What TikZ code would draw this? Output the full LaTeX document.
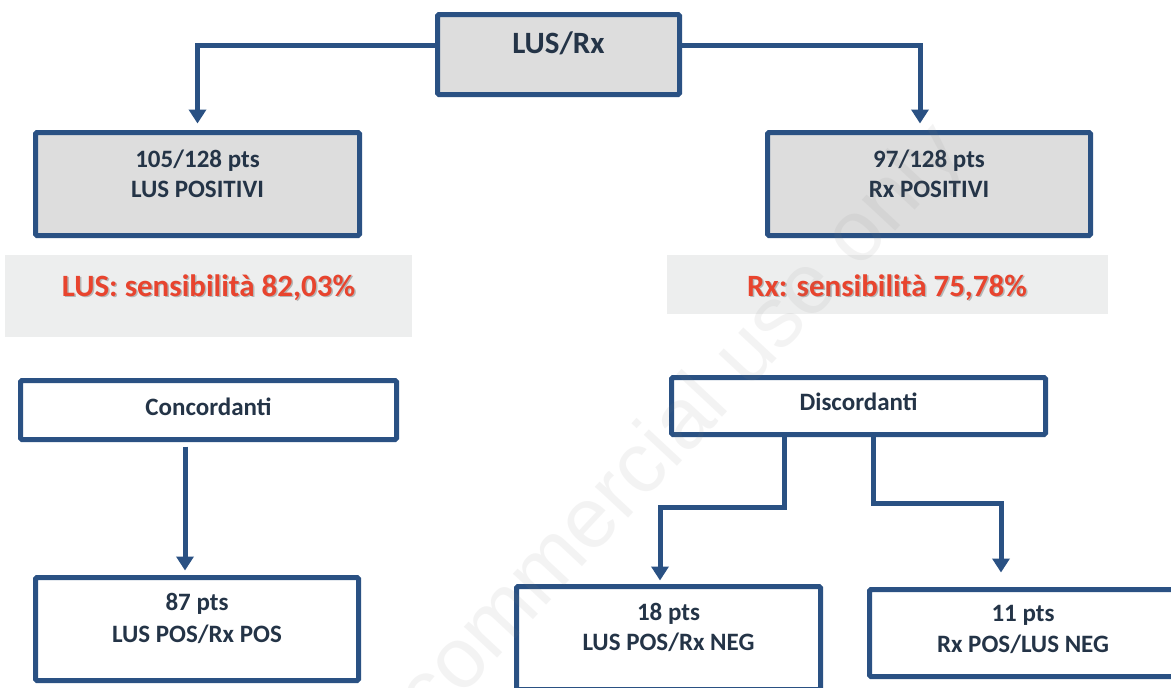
\documentclass[tikz,border=0pt]{standalone}
\usepackage{fontspec}
\setmainfont{Carlito}
\newfontfamily\wmfont{Liberation Sans}
\usetikzlibrary{arrows.meta}
\definecolor{bordblue}{HTML}{2A5183}
\definecolor{txt}{HTML}{243447}
\definecolor{boxgray}{HTML}{DDDDDD}
\definecolor{bandgray}{HTML}{EDEEEE}
\definecolor{redtxt}{HTML}{E8442E}
\begin{document}
\begin{tikzpicture}[x=1pt,y=-1pt,
  box/.style={draw=bordblue, line width=5pt, rounded corners=1.5pt, inner sep=0pt, outer sep=0pt},
  graybox/.style={box, fill=boxgray},
  whitebox/.style={box, fill=white},
  band/.style={fill=bandgray, draw=none, inner sep=0pt},
  lbl/.style={text=txt, font=\fontsize{25}{31}\selectfont\bfseries, anchor=base, inner sep=0pt},
  sens/.style={text=redtxt, font=\fontsize{31}{37}\selectfont\bfseries, anchor=base, inner sep=0pt},
  shad/.style={text=black!55, opacity=0.45, font=\fontsize{31}{37}\selectfont\bfseries, anchor=base, inner sep=0pt},
  conn/.style={draw=bordblue, line width=5pt, -{Triangle[width=17pt,length=14pt]}}
]
\useasboundingbox (0,0) rectangle (1171,688);
\fill[white] (0,0) rectangle (1171,688);

% bands
\node[band, minimum width=407pt, minimum height=82pt] (lband) at (208.5,296) {};
\node[band, minimum width=441pt, minimum height=59pt] (rband) at (887.5,284.5) {};

% boxes
\node[graybox, minimum width=242pt, minimum height=80pt] (top) at (558.5,54.5) {};
\node[graybox, minimum width=324pt, minimum height=103pt] (lpos) at (197.5,184) {};
\node[graybox, minimum width=323pt, minimum height=103pt] (rpos) at (929,184) {};
\node[whitebox, minimum width=376pt, minimum height=59pt] (conc) at (208.5,410) {};
\node[whitebox, minimum width=323pt, minimum height=103pt] (p87) at (197,629) {};
\node[whitebox, minimum width=374pt, minimum height=57pt] (disc) at (858.5,406) {};
\node[whitebox, minimum width=304pt, minimum height=103pt] (p18) at (668.5,638) {};
\node[whitebox, minimum width=309pt, minimum height=87pt] (p11) at (1024,633) {};

% texts
\node[lbl, font=\fontsize{31}{37}\selectfont\bfseries] (ttop) at (558.5,53) {LUS/Rx};
\node[lbl] (tl1) at (197.5,167) {105/128 pts};
\node[lbl] (tl2) at (197.5,197.5) {LUS POSITIVI};
\node[lbl] (tr1) at (929,167) {97/128 pts};
\node[lbl] (tr2) at (929,197.5) {Rx POSITIVI};
\node[lbl] (tconc) at (208.5,415) {Concordanti};
\node[lbl] (t871) at (197,610) {87 pts};
\node[lbl] (t872) at (197,642) {LUS POS/Rx POS};
\node[lbl] (tdisc) at (858.5,410) {Discordanti};
\node[lbl] (t181) at (668.5,620) {18 pts};
\node[lbl] (t182) at (668.5,650) {LUS POS/Rx NEG};
\node[lbl] (t111) at (1023,621) {11 pts};
\node[lbl] (t112) at (1023,652) {Rx POS/LUS NEG};

% sensitivity texts with shadow
\node[shad] (sls) at (210,297.5) {LUS: sensibilità 82,03\%};
\node[sens] (sl) at (208.5,296) {LUS: sensibilità 82,03\%};
\node[shad] (srs) at (888.5,297.5) {Rx: sensibilità 75,78\%};
\node[sens] (sr) at (887,296) {Rx: sensibilità 75,78\%};

% connectors
\draw[conn, shorten >=9pt] ([yshift=9.5pt]top.west) -| (lpos.north);
\draw[conn, shorten >=9pt] ([yshift=9.5pt]top.east) -| ([xshift=-9pt]rpos.north);
\draw[conn, shorten <=7pt, shorten >=7pt] ([xshift=-23.5pt]conc.south) -- ([xshift=-23.5pt]conc.south |- p87.north);
\draw[conn, shorten >=6pt] ([xshift=-74.5pt]disc.south) -- ++(0,72.5) -| ([xshift=-8.5pt]p18.north);
\draw[conn, shorten >=17pt] ([xshift=14.5pt]disc.south) -- ++(0,68.5) -| ([xshift=-23pt]p11.north);

% watermark
\node[rotate=47, text=black!50, opacity=0.09, inner sep=0pt, font=\wmfont\fontsize{86}{86}\selectfont] (wm) at (626,488) {non commercial use only};
\end{tikzpicture}
\end{document}
